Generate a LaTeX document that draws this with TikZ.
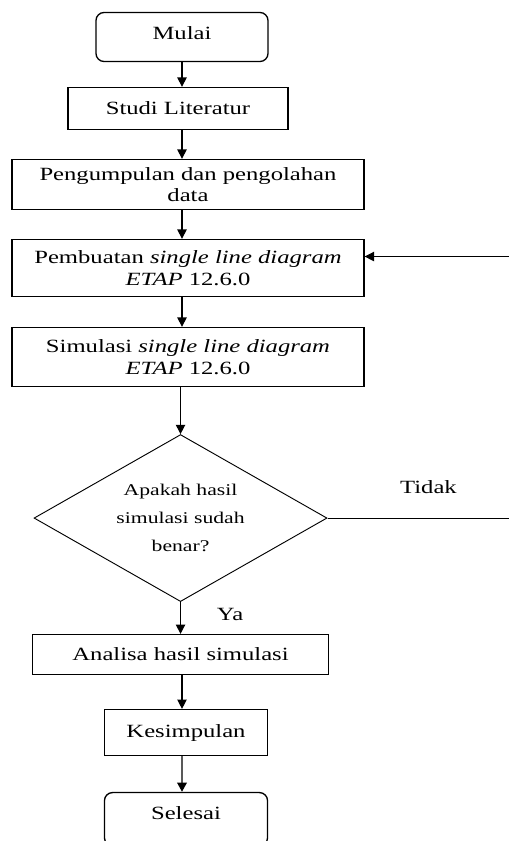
\documentclass[tikz,border=0pt]{standalone}
\usepackage{fontspec}
\setmainfont[FakeStretch=1.32]{Liberation Serif}
\usetikzlibrary{arrows.meta,positioning,shapes.geometric}

\begin{document}
\begin{tikzpicture}[-{Triangle[length=7pt,width=7pt]}, line width=1pt,
      every node/.append style={font=\fontsize{14pt}{16pt}\selectfont,align=center}]
    \tikzstyle{terminal} = [draw, rounded corners=6pt, minimum width=129pt, minimum height=36.75pt, text depth=6pt]
    \tikzstyle{process} = [draw, minimum width=264pt]
    \tikzstyle{decision} = [draw, diamond, aspect=1.75, line width=0.7pt, inner sep=0pt, minimum width=219.75pt, minimum height=125.25pt, font=\fontsize{12.3pt}{21pt}\selectfont]
    \tikzstyle{word} = [font=\fontsize{14pt}{16pt}\selectfont]
    \useasboundingbox (-136.5pt,27.75pt) rectangle (245.25pt,-603pt);
    \node (mulai) [terminal] {Mulai};
    \node (studi) [process, below=18.5pt of mulai, xshift=-3pt, minimum width=165pt, minimum height=31.5pt] {Studi Literatur};
    \node (peng) [process, below=21.5pt of studi, xshift=7.5pt, minimum height=37.5pt] {Pengumpulan dan pengolahan\\data};
    \node (buat) [process, below=21.5pt of peng, minimum height=42.75pt] {Pembuatan \textit{single line diagram}\\\textit{ETAP} 12.6.0};
    \node (sim) [process, below=22.25pt of buat, minimum height=44.25pt] {Simulasi \textit{single line diagram}\\\textit{ETAP} 12.6.0};
    \node (cek) [decision, below=35.2pt of sim, xshift=-5.6pt] {Apakah hasil\\simulasi sudah\\benar?};
    \node (analisa) [process, below=23.9pt of cek, minimum width=222pt, minimum height=30pt] {Analisa hasil simulasi};
    \node (kes) [process, below=25.25pt of analisa, xshift=4.1pt, minimum width=122.25pt, minimum height=34.5pt] {Kesimpulan};
    \node (selesai) [terminal, below=26.75pt of kes, minimum width=122.25pt, minimum height=40pt, text depth=9.25pt] {Selesai};
    \coordinate (balik) at ([xshift=141pt]cek.east);
    \draw (mulai) -- (studi.north -| mulai);
    \draw (studi.south -| mulai) -- (peng.north -| mulai);
    \draw (peng.south -| mulai) -- (buat.north -| mulai);
    \draw (buat.south -| mulai) -- (sim.north -| mulai);
    \draw (sim.south -| cek.north) -- (cek.north);
    \draw (cek.south) -- node[word, right=23.5pt, pos=0.39] {Ya} (analisa.north -| cek.south);
    \draw (analisa.south -| mulai) -- (kes.north -| mulai);
    \draw[black!65, line width=1.8pt, -{Triangle[length=7pt,width=7pt,color=black]}] (kes.south -| mulai) -- (selesai.north -| mulai);
    \draw[line width=0.8pt] (cek.east) -- node[word, above=14.3pt, pos=0.537] {Tidak} (balik) |- ([yshift=8.6pt]buat.east);
\end{tikzpicture}
\end{document}
